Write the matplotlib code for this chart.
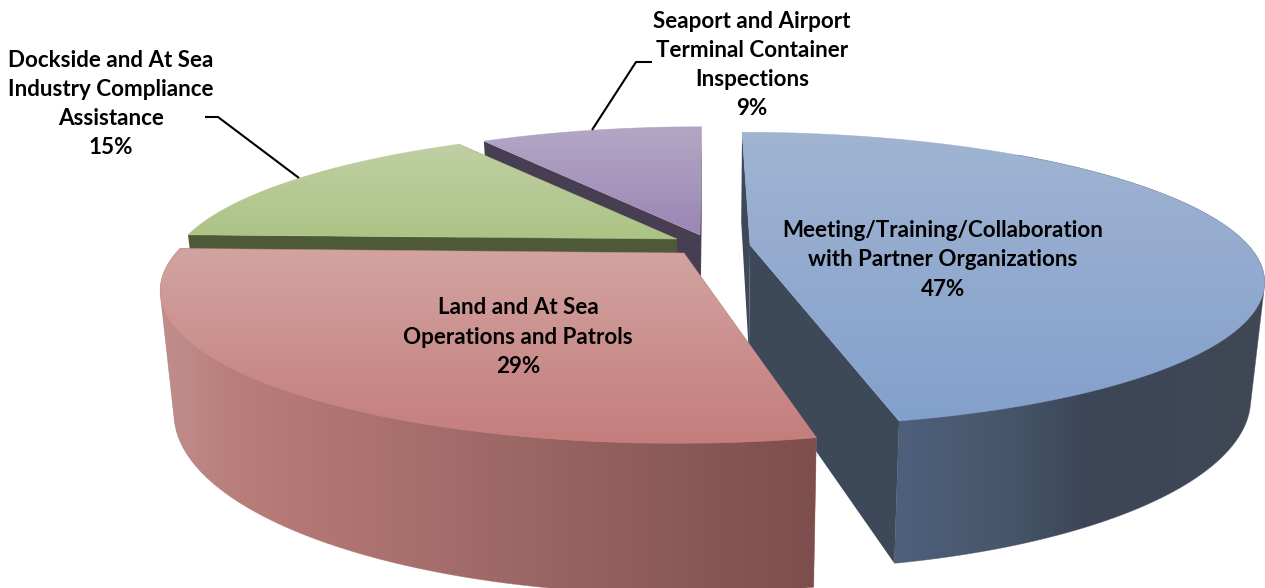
import numpy as np
import matplotlib
matplotlib.use('Agg')
import matplotlib.pyplot as plt
from matplotlib.patches import Polygon

# share of each slice, clockwise from 12 o'clock (labels round them)
names = ['Meeting/Training/Collaboration\nwith Partner Organizations',
         'Land and At Sea\nOperations and Patrols',
         'Dockside and At Sea\nIndustry Compliance\nAssistance',
         'Seaport and Airport\nTerminal Container\nInspections']
values = [46.6, 28.9, 15.4, 9.1]

# colours
top_cols = [[(161, 180, 210), (131, 160, 204)],
            [(210, 164, 161), (196, 125, 124)],
            [(192, 207, 163), (172, 195, 133)],
            [(180, 167, 197), (154, 134, 180)]]
side_cols = [[(78, 96, 124), (70, 86, 106), (60, 70, 88), (64, 72, 85)],
             [(192, 142, 140), (185, 125, 122), (170, 112, 110), (155, 102, 100), (125, 78, 76)],
             None, None]
side_stops = [[0, 0.3, 0.52, 1], [0, 0.12, 0.36, 0.56, 1], None, None]
wall_cols = [(61, 72, 88), (124, 78, 76), (78, 90, 55), (72, 62, 82)]

# per slice: apex on screen, radius scale x/y (explode shifts them in depth)
apexes = [(750, 245), (684, 253), (677, 239), (700, 235)]
scales = [(1.0, 1.0), (1.02, 1.05), (0.99, 0.97), (0.965, 0.96)]
thick = [1.0, 1.05, 1.0, 1.0]
# where the outer side of a slice can be seen (degrees clockwise from top)
side_from = [40, 0, 0, 0]

label_pos = [(943, 260), (518, 337), (111, 104), (752, 65)]
leaders = [None, None,
           [(205, 117), (218, 117), (299, 178)],
           [(652, 62), (636, 62), (592, 130)]]

RX = 498.0
RY = 139.0
K = 0.233     # perspective
VC = 708.0    # vanishing x
H0 = 110.0    # thickness
F = 0.975     # bottom disk is a bit smaller


def top_pts(t, apex, sc):
    u = np.sin(t)
    v = -np.cos(t)
    s = 1 / (1 - K * v)
    x = apex[0] + RX * sc[0] * u * s + (apex[0] - VC) * K * v * s
    y = apex[1] + RY * sc[1] * v * s
    return np.column_stack([x, y])


def bottom_pts(t, apex, sc, th):
    p = top_pts(t, apex, sc)
    v = -np.cos(t)
    s = 1 / (1 - K * v)
    x = VC + (p[:, 0] - VC) * F
    y = p[:, 1] + H0 * th * s
    return np.column_stack([x, y])


def hull(pts):
    # monotone chain, the side of a slice is the sweep of top arc to bottom arc
    pts = sorted(set(map(tuple, pts)))

    def half(seq):
        out = []
        for p in seq:
            while len(out) > 1:
                a, b = out[-2], out[-1]
                if (b[0] - a[0]) * (p[1] - a[1]) - (b[1] - a[1]) * (p[0] - a[0]) <= 0:
                    out.pop()
                else:
                    break
            out.append(p)
        return out
    lo = half(pts)
    up = half(pts[::-1])
    return np.array(lo[:-1] + up[:-1])


def grad_fill(ax, pts, cols, stops=None, vertical=True):
    x0, x1 = pts[:, 0].min(), pts[:, 0].max()
    y0, y1 = pts[:, 1].min(), pts[:, 1].max()
    cols = np.array(cols) / 255
    if stops is None:
        stops = np.linspace(0, 1, len(cols))
    w = np.linspace(0, 1, 256)
    g = np.column_stack([np.interp(w, stops, cols[:, c]) for c in range(3)])
    if vertical:
        img = g[:, None, :]
    else:
        img = g[None, :, :]
    im = ax.imshow(img, extent=(x0, x1, y1, y0), aspect='auto', interpolation='bilinear', zorder=ax.zz)
    poly = Polygon(pts, closed=True, transform=ax.transData, fc='none', ec='none')
    ax.add_patch(poly)
    im.set_clip_path(poly)
    ax.zz += 1
    # image clip is not antialiased, a thin line softens the edge
    ax.add_patch(Polygon(pts, closed=True, fc='none', ec=cols.mean(axis=0), lw=0.5, alpha=0.6, zorder=ax.zz))
    ax.zz += 1


fig = plt.figure(figsize=(12.65, 5.88), dpi=100)
ax = fig.add_axes([0, 0, 1, 1])
ax.zz = 1
ax.axis('off')

edges = np.cumsum([0] + values) / sum(values) * 2 * np.pi

# back slices first so the front ones cover them
for i in [3, 2, 0, 1]:
    t = np.linspace(edges[i], edges[i + 1], 200)
    apex = apexes[i]
    sc = scales[i]
    a_top = np.array([apex], dtype=float)
    a_bot = np.array([[VC + (apex[0] - VC) * F, apex[1] + H0 * thick[i]]])

    # radial walls
    for e in [edges[i], edges[i + 1]]:
        tt = np.array([e])
        wall = np.vstack([a_top, top_pts(tt, apex, sc), bottom_pts(tt, apex, sc, thick[i]), a_bot])
        ax.add_patch(Polygon(wall, closed=True, fc=np.array(wall_cols[i]) / 255, ec='none', zorder=ax.zz))
        ax.zz += 1

    # outer side
    if side_cols[i] is not None:
        vis = np.degrees(t) >= side_from[i]
        side = hull(np.vstack([top_pts(t[vis], apex, sc), bottom_pts(t[vis], apex, sc, thick[i])]))
        grad_fill(ax, side, side_cols[i], side_stops[i], vertical=False)

    # top face
    face = np.vstack([a_top, top_pts(t, apex, sc)])
    grad_fill(ax, face, top_cols[i], vertical=True)

plt.rcParams['font.family'] = ['Lato', 'DejaVu Sans']
for i in range(4):
    txt = names[i] + '\n%d%%' % round(values[i])
    ax.text(label_pos[i][0], label_pos[i][1], txt, ha='center', va='center', fontsize=16.1,
            fontweight='bold', color='black', linespacing=1.49, zorder=200)
    if leaders[i] is not None:
        xs = [p[0] for p in leaders[i]]
        ys = [p[1] for p in leaders[i]]
        ax.plot(xs, ys, color='black', lw=1.5, zorder=150, solid_capstyle='butt')

ax.set_xlim(0, 1265)
ax.set_ylim(588, 0)
fig.savefig('out.png', dpi=100)
